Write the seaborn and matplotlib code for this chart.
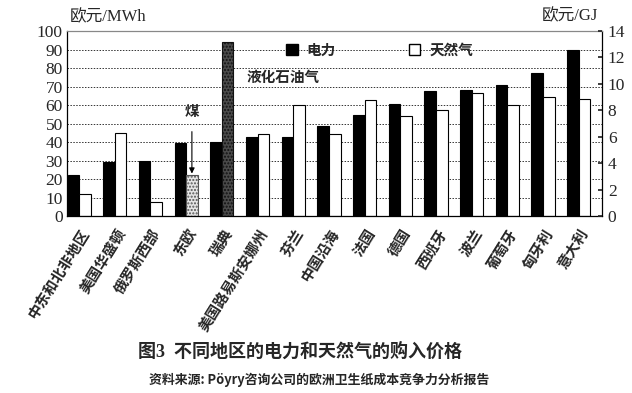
import matplotlib
matplotlib.use("Agg")
import matplotlib.pyplot as plt
from matplotlib.patches import Patch
import pandas as pd
import seaborn as sns

# 各地区电力 (欧元/MWh) 和天然气 (欧元/GJ) 价格
regions = ['中东和北非地区', '美国华盛顿', '俄罗斯西部', '东欧', '瑞典', '美国路易斯安娜州',
           '芬兰', '中国沿海', '法国', '德国', '西班牙', '波兰', '葡萄牙', '匈牙利', '意大利']
power_mwh = [22, 29.5, 30, 39.5, 40, 43, 43, 48.5, 54.5, 60.5, 67.5, 68, 71, 77.5, 89.5]
gas_gj = [1.7, 6.3, 1.1, 3.1, 13.2, 6.2, 8.4, 6.2, 8.8, 7.6, 8.0, 9.3, 8.4, 9.0, 8.85]

left_ticks = list(range(0, 101, 10))
right_ticks = list(range(0, 15, 2))

sns.set_theme(style="white")
plt.rcParams['font.family'] = ['Noto Sans CJK SC', 'DejaVu Sans']
serif_mix = ['Liberation Serif', 'Noto Sans CJK SC']

# 天然气按右轴比例换算到左轴 (14 欧元/GJ <-> 100 欧元/MWh)
scale = 100 / 14
df = pd.DataFrame({
    'region': regions * 2,
    'series': ['电力'] * len(regions) + ['天然气'] * len(regions),
    'value': power_mwh + [g * scale for g in gas_gj],
})

fig = plt.figure(figsize=(6.32, 3.93), dpi=100)
ax = fig.add_axes([0.106, 0.450, 0.847, 0.471])

sns.barplot(data=df, x='region', y='value', hue='series', order=regions,
            palette={'电力': 'black', '天然气': 'white'}, edgecolor='black',
            linewidth=0.8, width=0.65, legend=False, ax=ax)

# 东欧为煤, 瑞典为液化石油气
gas_bars = ax.containers[1]
coal = gas_bars[3]
coal.set_facecolor('#e4e4e4')
coal.set_hatch('.....')
coal.set_edgecolor('#555555')
lpg = gas_bars[4]
lpg.set_facecolor('#4a4a4a')
lpg.set_hatch('.....')
lpg.set_edgecolor('#111111')

ax.set_xlim(-0.34, 14.66)
ax.set_ylim(0, 100)
ax.set_yticks(left_ticks)
ax.set_yticklabels([str(t) for t in left_ticks])
for t in left_ticks[1:-1]:
    ax.axhline(t, color='#333333', linestyle=(0, (1.5, 1.5)), linewidth=0.7, zorder=0)
ax.set_xlabel('')
ax.set_ylabel('')
ax.tick_params(axis='y', length=0, pad=3)
ax.tick_params(axis='x', length=0, pad=7)
ax.set_xticks(range(len(regions)))
ax.set_xticklabels(regions, rotation=58, ha='right', rotation_mode='anchor',
                   fontsize=10.5, fontweight='bold')
for sp in ax.spines.values():
    sp.set_color('black')
    sp.set_linewidth(0.9)
ax.spines['top'].set_color('#888888')

ax2 = ax.twinx()
ax2.set_ylim(0, 14)
ax2.set_yticks(right_ticks)
ax2.set_yticklabels([str(t) for t in right_ticks])
ax2.tick_params(axis='y', length=3, direction='in', pad=4)
for sp in ax2.spines.values():
    sp.set_visible(False)

for lab in ax.get_yticklabels() + ax2.get_yticklabels():
    lab.set_fontfamily('Liberation Serif')
    lab.set_fontsize(12.5)

fig.text(0.11, 0.955, '欧元/MWh', fontsize=12, family=serif_mix, ha='left', va='center')
fig.text(0.947, 0.958, '欧元/GJ', fontsize=12, family=serif_mix, ha='right', va='center')

handles = [Patch(facecolor='black', edgecolor='black'),
           Patch(facecolor='white', edgecolor='black')]
ax.legend(handles, ['电力', '天然气'], ncol=2, frameon=False, loc='center left',
          bbox_to_anchor=(0.385, 0.9), handlelength=0.8,
          handleheight=0.8, handletextpad=0.6, columnspacing=5.0,
          prop={'weight': 'bold', 'size': 10.5})

ax.text(4.7, 75, '液化石油气', fontsize=10.5, fontweight='bold', ha='left', va='center')
ax.annotate('煤', xy=(3.16, 23), xytext=(3.16, 57), fontsize=10.5, fontweight='bold',
            ha='center', va='center',
            arrowprops=dict(arrowstyle='-|>', color='black', lw=0.8, mutation_scale=8,
                            shrinkA=7, shrinkB=0))

fig.text(0.475, 0.105, '图3  不同地区的电力和天然气的购入价格', fontsize=13,
         family=serif_mix, fontweight='bold', ha='center', va='center')
fig.text(0.505, 0.033, '资料来源: Pöyry咨询公司的欧洲卫生纸成本竞争力分析报告',
         fontsize=9.3, fontweight='bold', ha='center', va='center')

fig.savefig('out.png', dpi=100)
